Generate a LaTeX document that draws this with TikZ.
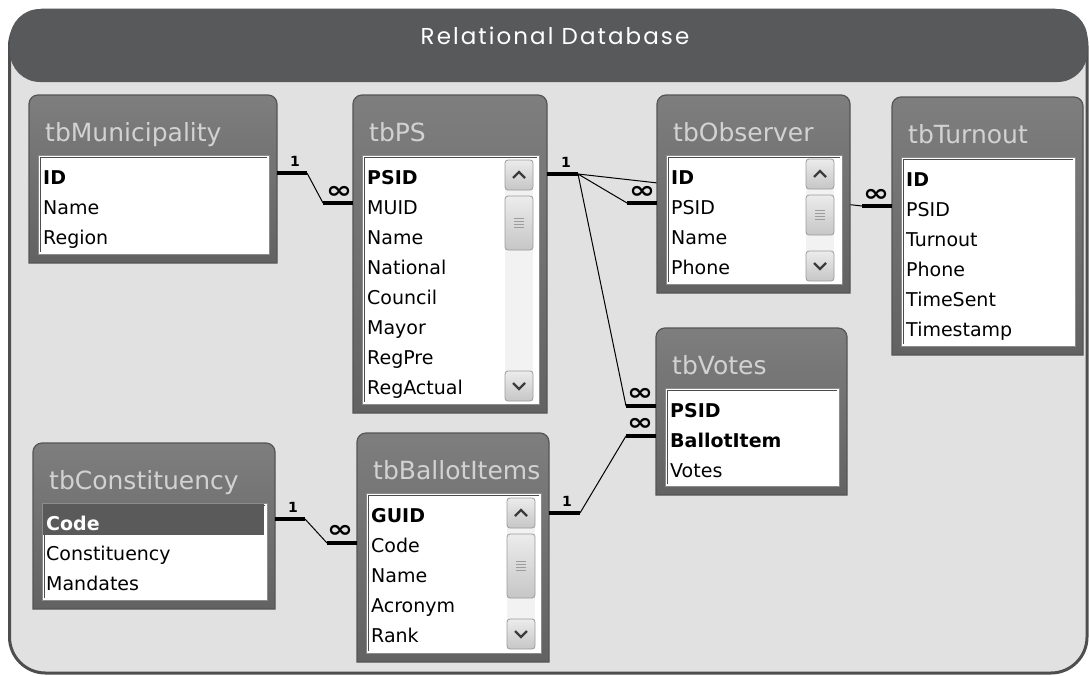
\documentclass[tikz,border=0pt]{standalone}
\usepackage{fontspec}
\setmainfont{DejaVu Sans}
\newfontfamily\headfont[LetterSpace=9]{Poppins}
\usetikzlibrary{fit,calc}
\definecolor{framebg}{HTML}{E1E1E1}
\definecolor{framecol}{HTML}{4E4E4E}
\definecolor{headcol}{HTML}{58595B}
\definecolor{tabtop}{HTML}{7E7E7E}
\definecolor{tabbot}{HTML}{626262}
\definecolor{tabedge}{HTML}{555555}
\definecolor{titlecol}{HTML}{D2D2D2}
\definecolor{inneredge}{HTML}{8C8C8C}
\definecolor{trackcol}{HTML}{F2F2F2}
\definecolor{btnedge}{HTML}{9C9C9C}
\definecolor{btntop}{HTML}{ECECEC}
\definecolor{btnbot}{HTML}{C6C6C6}
\definecolor{chevcol}{HTML}{3C3C3C}
\definecolor{hilite}{HTML}{5A5A5A}
\newcommand{\manysym}{\scalebox{1.3}[1]{∞}}
\tikzset{
  tabframe/.style={draw=tabedge, line width=1.2pt, top color=tabtop, bottom color=tabbot},
  tabtitle/.style={text=titlecol, font=\fontsize{25}{28}\selectfont, inner sep=0pt},
  field/.style={font=\fontsize{19}{22}\selectfont, inner sep=0pt, anchor=base west},
  innerbox/.style={fill=white, draw=inneredge, line width=1pt},
  btn/.style={draw=btnedge, line width=0.8pt, rounded corners=3pt, top color=btntop, bottom color=btnbot},
  chev/.style={draw=chevcol, line width=2.4pt},
  grip/.style={draw=btnedge, line width=0.8pt},
  rel/.style={draw=black, line width=1pt},
  relend/.style={draw=black, line width=4pt},
  onelab/.style={font=\bfseries\fontsize{14}{14}\selectfont, inner sep=0pt},
  manylab/.style={font=\bfseries\fontsize{24}{24}\selectfont, inner sep=0pt},
}
% #1 name, #2 x1, #3 y1, #4 x2, #5 y2, #6 title
\newcommand{\dbtable}[6]{%
  \draw[tabframe] (#2,#5) [rounded corners=9pt] -- (#2,#3) -- (#4,#3) [sharp corners] -- (#4,#5) -- cycle;
  \node[fit={(#2,#3) (#4,#5)}, inner sep=0pt] (#1) {};
  \node[tabtitle, anchor=base west] (#1t) at (#2+16,#3+46) {#6};
  \draw[innerbox] (#2+9,#3+60) rectangle (#4-8,#5-9);
  \draw[draw=black!70, line width=1pt] (#2+11,#5-11) -- (#2+11,#3+62) -- (#4-10,#3+62);
}
% #1 name, #2 x text, #3 baseline of first row, #4 list
\newcommand{\dbfields}[4]{%
  \foreach \t [count=\i from 0] in {#4} {
    \node[field] (#1-\i) at (#2,#3+30*\i) {\t};
  }
}
% #1 x1, #2 x2, #3 top, #4 bottom, #5 thumb top, #6 thumb bottom
\newcommand{\scrollbar}[6]{%
  \fill[trackcol] (#1,#3) rectangle (#2,#4);
  \draw[btn] (#1,#3) rectangle (#2,#3+30);
  \draw[chev] (#1+8,#3+18) -- (#1+14,#3+12) -- (#1+20,#3+18);
  \draw[btn] (#1,#4-30) rectangle (#2,#4);
  \draw[chev] (#1+8,#4-18) -- (#1+14,#4-12) -- (#1+20,#4-18);
  \draw[btn] (#1,#5) rectangle (#2,#6);
  \foreach \g in {-4.5,-1.5,1.5,4.5}
    \draw[grip] (#1+9,{(#5+#6)/2+\g}) -- (#1+19,{(#5+#6)/2+\g});
}
\begin{document}
\begin{tikzpicture}[x=1pt,y=-1pt]
\useasboundingbox (0,0) rectangle (1089,675);
% frame and header
\draw[framecol, line width=3pt, fill=framebg, rounded corners=36pt] (9.5,10) rectangle (1087,673);
\fill[headcol, rounded corners=30pt] (10,9) rectangle (1087.5,82);
\node[text=white, font=\headfont\fontsize{23}{26}\selectfont, anchor=base, inner sep=0pt] (head) at (555,44) {Relational Database};

% connectors (drawn first so that tables cover them)
\coordinate (r1a) at (307,173);
\coordinate (r1b) at (323,203);
\coordinate (r2a) at (578,174);
\coordinate (r2b) at (627,203);
\coordinate (r3b) at (862,206);
\coordinate (r4b) at (626,406);
\coordinate (r5a) at (580,513);
\coordinate (r5b) at (626,436);
\coordinate (r6a) at (305,519);
\coordinate (r6b) at (327,543);

\draw[rel] (r1a) -- (r1b);
\draw[rel] (r2a) -- (r2b);
\draw[rel] (r2a) -- (r3b);
\draw[rel] (r2a) -- (r4b);
\draw[rel] (r5a) -- (r5b);
\draw[rel] (r6a) -- (r6b);

% tables
\dbtable{muni}{29}{95}{277}{263}{tbMunicipality}
\dbfields{muni}{43}{184}{{\bfseries ID},Name,Region}

\dbtable{ps}{353}{95}{547}{413}{tbPS}
\scrollbar{505}{533}{160}{401}{196}{250}
\dbfields{ps}{367}{184}{{\bfseries PSID},MUID,Name,National,Council,Mayor,RegPre,RegActual}

\dbtable{obs}{657}{95}{850}{293}{tbObserver}
\scrollbar{806}{834}{159}{281}{195}{235}
\dbfields{obs}{671}{184}{{\bfseries ID},PSID,Name,Phone}

\dbtable{turn}{892}{97}{1083}{355}{tbTurnout}
\dbfields{turn}{906}{186}{{\bfseries ID},PSID,Turnout,Phone,TimeSent,Timestamp}

\dbtable{votes}{656}{328}{847}{495}{tbVotes}
\dbfields{votes}{670}{417}{{\bfseries PSID},{\bfseries BallotItem},Votes}

\dbtable{const}{33}{443}{275}{609}{tbConstituency}
\fill[hilite] (43,504) rectangle (264,535);
\dbfields{const}{46}{530}{{\color{white}\bfseries Code},Constituency,Mandates}

\dbtable{ballot}{357}{433}{549}{662}{tbBallotItems}
\scrollbar{507}{535}{498}{649}{534}{598}
\dbfields{ballot}{371}{522}{{\bfseries GUID},Code,Name,Acronym,Rank}

% relationship ends
\draw[relend] (muni.east |- r1a) -- (r1a);
\draw[relend] (ps.west |- r1b) -- (r1b);
\draw[relend] (ps.east |- r2a) -- (r2a);
\draw[relend] (obs.west |- r2b) -- (r2b);
\draw[relend] (turn.west |- r3b) -- (r3b);
\draw[relend] (votes.west |- r4b) -- (r4b);
\draw[relend] (ballot.east |- r5a) -- (r5a);
\draw[relend] (votes.west |- r5b) -- (r5b);
\draw[relend] (const.east |- r6a) -- (r6a);
\draw[relend] (ballot.west |- r6b) -- (r6b);

% labels
\node[onelab] (l1) at (295,161) {1};
\node[manylab] (m1) at (339,192) {\manysym};
\node[onelab] (l2) at (566,162) {1};
\node[manylab] (m2) at (642,192) {\manysym};
\node[manylab] (m3) at (876,195) {\manysym};
\node[manylab] (m4) at (640,394) {\manysym};
\node[manylab] (m5) at (640,424) {\manysym};
\node[onelab] (l5) at (567,501) {1};
\node[onelab] (l6) at (293,507) {1};
\node[manylab] (m6) at (340,531) {\manysym};
\end{tikzpicture}
\end{document}
